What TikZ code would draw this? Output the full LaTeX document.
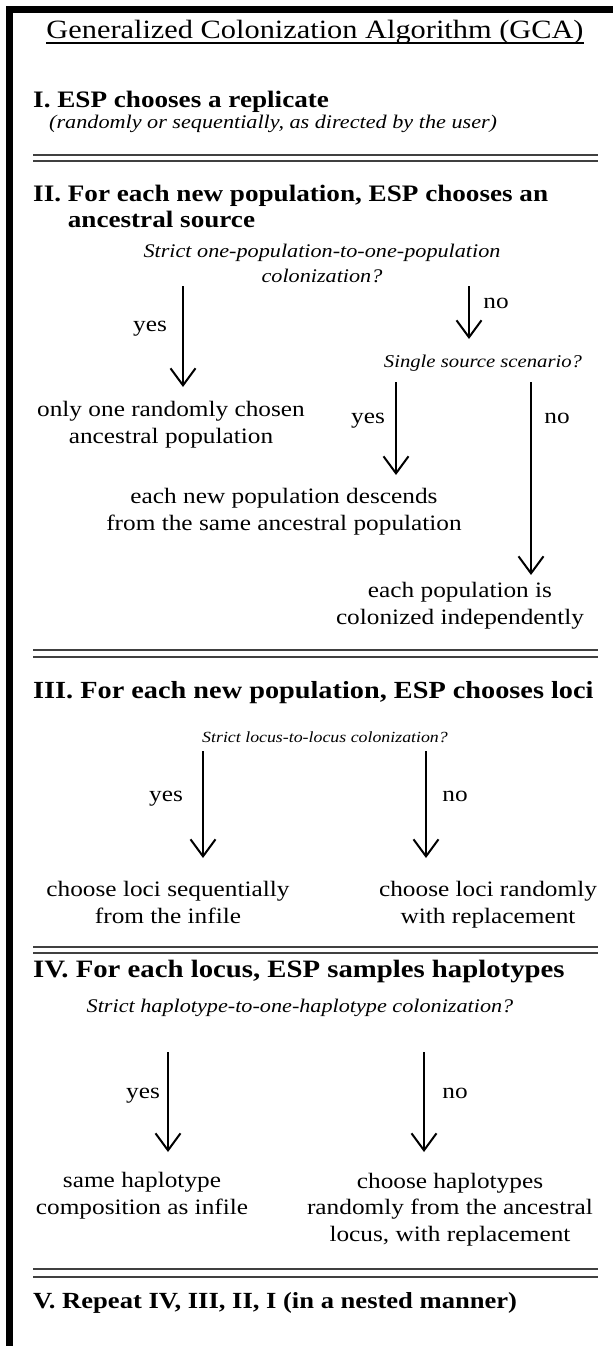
\documentclass[tikz,border=0pt]{standalone}
\usepackage{fontspec}
\setmainfont{Liberation Serif}[FakeStretch=1.15]
\usepackage{tikz}
\usetikzlibrary{arrows.meta, positioning}

\begin{document}
\begin{tikzpicture}[
        x=1pt, y=-1pt,
        heading/.style={
          anchor=base west,
          inner sep=0pt,
          align=left,
          font=\fontsize{#1}{26}\selectfont\bfseries
        },
        heading/.default=23.6,
        question/.style={
          anchor=base,
          inner sep=0pt,
          align=center,
          font=\fontsize{#1}{25}\selectfont\itshape
        },
        question/.default=19.3,
        answer/.style={
          anchor=base,
          inner sep=0pt,
          align=center,
          font=\fontsize{22}{26.5}\selectfont
        },
        choice/.style={
          anchor=base,
          inner sep=0pt,
          font=\fontsize{22}{26}\selectfont
        },
        arrow/.style={
          -{Straight Barb[length=17pt,width=25pt]},
          line width=2pt
        },
        rule/.style={
          line width=1.5pt,
          black!75
        }
      ]

      \useasboundingbox (0,0) rectangle (613,1346);

      % Frame
      \draw[line width=7pt] (9.5,1346) -- (9.5,9.5) -- (613,9.5);

      % Title
      \node[inner sep=0pt, anchor=base, font=\fontsize{26.4}{30}\selectfont] (title) at (315,39) {Generalized Colonization Algorithm (GCA)};
      \draw[line width=1.2pt] ([yshift=-4pt]title.base west) -- ([yshift=-4pt]title.base east);

      % Steps (base = last line)
      \node[heading] (stepone) at (33,107) {I. ESP chooses a replicate};
      \node[question, anchor=base west] (replorder) at (49,128) {(randomly or sequentially, as directed by the user)};
      \node[heading] (steptwo) at (33,227) {II. For each new population, ESP chooses an\\\hphantom{II.\ }ancestral source};
      \node[heading=24.6] (stepthree) at (33,698) {III. For each new population, ESP chooses loci};
      \node[heading=25] (stepfour) at (33,977) {IV. For each locus, ESP samples haplotypes};
      \node[heading=23.1] (stepfive) at (33,1308) {V. Repeat IV, III, II, I (in a nested manner)};

      % Separators
      \draw[rule] (33,155) -- (598,155);
      \draw[rule] (33,161) -- (598,161);
      \draw[rule] (33,650) -- (598,650);
      \draw[rule] (33,657) -- (598,657);
      \draw[rule] (33,947) -- (598,947);
      \draw[rule] (33,953) -- (598,953);
      \draw[rule] (33,1269) -- (598,1269);
      \draw[rule] (33,1277) -- (598,1277);

      % Questions
      \node[question] (askpop) at (322,282) {Strict one-population-to-one-population\\colonization?};
      \node[question=18] (asksource) at (483,367) {Single source scenario?};
      \node[question=15.5] (asklocus) at (325,742) {Strict locus-to-locus colonization?};
      \node[question] (askhap) at (300,1012) {Strict haplotype-to-one-haplotype colonization?};

      % Outcomes
      \node[answer] (onepop) at (171,443) {only one randomly chosen\\ancestral population};
      \node[answer] (samepop) at (284,530) {each new population descends\\from the same ancestral population};
      \node[answer] (indpop) at (460,624) {each population is\\colonized independently};
      \node[answer] (seqloci) at (168,923) {choose loci sequentially\\from the infile};
      \node[answer] (randloci) at (488,923) {choose loci randomly\\with replacement};
      \node[answer] (samehap) at (142,1214) {same haplotype\\composition as infile};
      \node[answer] (randhap) at (450,1241) {choose haplotypes\\randomly from the ancestral\\locus, with replacement};

      % Arrow ends
      \coordinate (popyes top) at (183,286);
      \coordinate (popyes tip) at (183,387);
      \coordinate (popno top) at (469,286);
      \coordinate (popno tip) at (469,339);
      \coordinate (sourceyes top) at (396,382);
      \coordinate (sourceyes tip) at (396,475);
      \coordinate (sourceno top) at (531,382);
      \coordinate (sourceno tip) at (531,575);
      \coordinate (locusyes top) at (203,751);
      \coordinate (locusyes tip) at (203,858);
      \coordinate (locusno top) at (426,751);
      \coordinate (locusno tip) at (426,858);
      \coordinate (hapyes top) at (168,1052);
      \coordinate (hapyes tip) at (168,1152);
      \coordinate (hapno top) at (424,1052);
      \coordinate (hapno tip) at (424,1152);

      \draw[arrow] (popyes top) -- (popyes tip);
      \draw[arrow] (popno top) -- (popno tip);
      \draw[arrow] (sourceyes top) -- (sourceyes tip);
      \draw[arrow] (sourceno top) -- (sourceno tip);
      \draw[arrow] (locusyes top) -- (locusyes tip);
      \draw[arrow] (locusno top) -- (locusno tip);
      \draw[arrow] (hapyes top) -- (hapyes tip);
      \draw[arrow] (hapno top) -- (hapno tip);

      % Arrow labels
      \node[choice] (popyeslbl) at (150,331) {yes};
      \node[choice] (popnolbl) at (496,308) {no};
      \node[choice] (sourceyeslbl) at (368,423) {yes};
      \node[choice] (sourcenolbl) at (557,423) {no};
      \node[choice] (locusyeslbl) at (166,801) {yes};
      \node[choice] (locusnolbl) at (455,801) {no};
      \node[choice] (hapyeslbl) at (143,1098) {yes};
      \node[choice] (hapnolbl) at (455,1098) {no};

    \end{tikzpicture}
\end{document}
